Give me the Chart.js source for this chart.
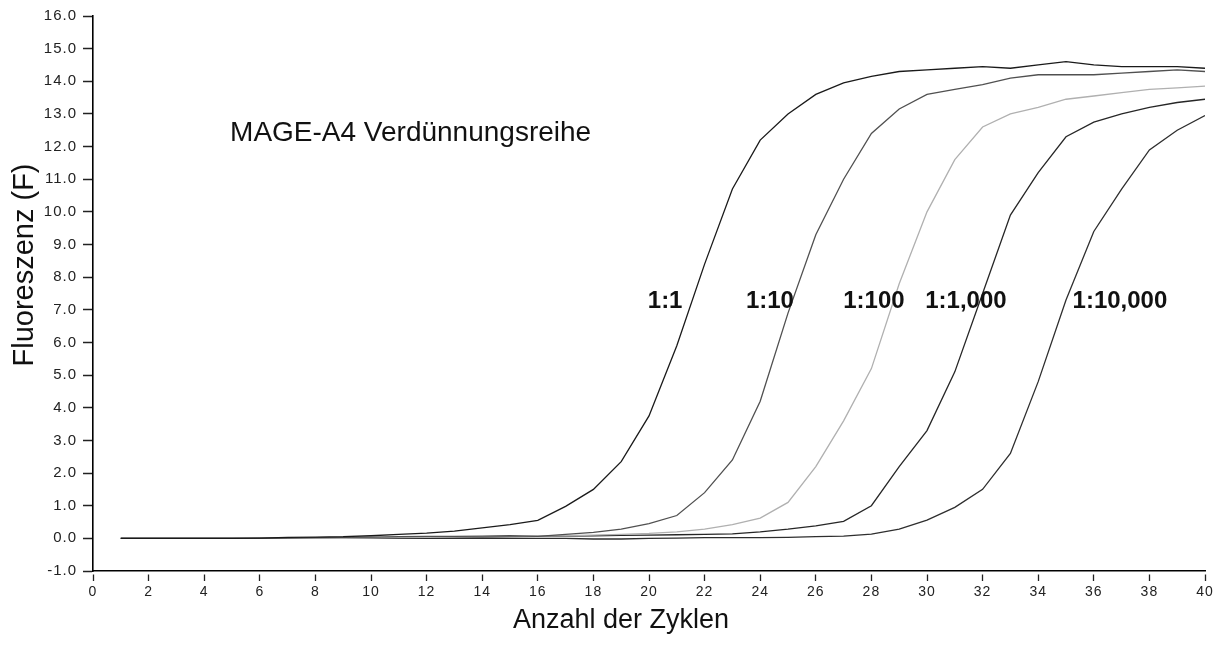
<!DOCTYPE html>
<html>
<head>
<meta charset="utf-8">
<script src="https://cdn.jsdelivr.net/npm/chart.js@4/dist/chart.umd.min.js"></script>
<style>
  html, body { margin: 0; padding: 0; background: #fff; }
  #wrap { width: 1225px; height: 645px; }
</style>
</head>
<body>
<div id="wrap"><canvas id="qpcrChart" width="1225" height="645"></canvas></div>
<script>
// Zyklen 1..40
const cycles = [1, 2, 3, 4, 5, 6, 7, 8, 9, 10, 11, 12, 13, 14, 15, 16, 17, 18, 19, 20,
  21, 22, 23, 24, 25, 26, 27, 28, 29, 30, 31, 32, 33, 34, 35, 36, 37, 38, 39, 40];

// Fluoreszenz je Verdünnung
const dil1 = [0.00, 0.00, 0.00, 0.00, 0.00, 0.01, 0.03, 0.04, 0.05, 0.08,
  0.12, 0.16, 0.22, 0.32, 0.42, 0.55, 0.98, 1.50, 2.35, 3.75,
  5.90, 8.40, 10.70, 12.20, 13.00, 13.60, 13.95, 14.15, 14.30, 14.35,
  14.40, 14.45, 14.40, 14.50, 14.60, 14.50, 14.45, 14.45, 14.45, 14.40];
const dil10 = [0.00, 0.00, 0.00, 0.00, 0.00, 0.00, 0.01, 0.02, 0.03, 0.04,
  0.05, 0.06, 0.06, 0.07, 0.08, 0.06, 0.12, 0.18, 0.28, 0.45,
  0.70, 1.40, 2.40, 4.20, 6.90, 9.30, 11.00, 12.40, 13.15, 13.60,
  13.75, 13.90, 14.10, 14.20, 14.20, 14.20, 14.25, 14.30, 14.35, 14.30];
const dil100 = [0.00, 0.00, 0.00, 0.00, 0.00, 0.00, 0.00, 0.00, 0.00, 0.01,
  0.02, 0.03, 0.04, 0.05, 0.06, 0.07, 0.08, 0.10, 0.12, 0.15,
  0.20, 0.28, 0.42, 0.62, 1.10, 2.20, 3.60, 5.20, 7.80, 10.00,
  11.60, 12.60, 13.00, 13.20, 13.45, 13.55, 13.65, 13.75, 13.80, 13.85];
const dil1000 = [0.00, 0.00, 0.00, 0.00, 0.00, 0.00, 0.00, 0.00, 0.00, 0.00,
  0.01, 0.02, 0.03, 0.04, 0.05, 0.06, 0.07, 0.08, 0.09, 0.10,
  0.11, 0.12, 0.14, 0.20, 0.28, 0.38, 0.52, 1.00, 2.20, 3.30,
  5.10, 7.50, 9.90, 11.20, 12.30, 12.75, 13.00, 13.20, 13.35, 13.45];
const dil10000 = [0.00, 0.00, 0.00, 0.00, 0.00, 0.00, 0.00, 0.00, 0.00, 0.00,
  0.00, 0.00, 0.00, 0.00, 0.00, 0.00, 0.00, -0.02, -0.02, 0.00,
  0.01, 0.02, 0.02, 0.02, 0.03, 0.05, 0.07, 0.13, 0.28, 0.56,
  0.95, 1.50, 2.60, 4.80, 7.30, 9.40, 10.70, 11.90, 12.50, 12.95];

const seriesNames = ["1:1", "1:10", "1:100", "1:1,000", "1:10,000"];
const seriesColors = ["#1a1a1a", "#505050", "#b0b0b0", "#262626", "#2e2e2e"];

// Beschriftung der Kurven (Zyklus, Fluoreszenz)
const labelCycles = [20.58, 24.35, 28.09, 31.4, 36.94];
const labelValues = [7.27, 7.27, 7.27, 7.27, 7.27];

const yTicks = [-1, 0, 1, 2, 3, 4, 5, 6, 7, 8, 9, 10, 11, 12, 13, 14, 15, 16];

const allSeries = [dil1, dil10, dil100, dil1000, dil10000];

const FONT = "'Liberation Sans', Arial, sans-serif";

// etwas Zeichenabstand für die Achsenbeschriftung
const spacingPlugin = {
  id: "spacing",
  beforeDraw(chart) { chart.ctx.letterSpacing = "1px"; },
  afterDatasetsDraw(chart) { chart.ctx.letterSpacing = "0px"; }
};

// Texte: Titel, Achsentitel, Kurvenbeschriftungen
const textPlugin = {
  id: "texts",
  afterDraw(chart) {
    const ctx = chart.ctx;
    const xs = chart.scales.x;
    const ys = chart.scales.y;
    ctx.save();
    ctx.letterSpacing = "0px";
    ctx.fillStyle = "#111";

    // Kurvenbeschriftungen
    ctx.font = "bold 24px " + FONT;
    ctx.textAlign = "center";
    ctx.textBaseline = "middle";
    seriesNames.forEach((name, i) => {
      ctx.fillText(name, xs.getPixelForValue(labelCycles[i]), ys.getPixelForValue(labelValues[i]));
    });

    // Titel im Diagramm
    ctx.font = "28px " + FONT;
    ctx.textAlign = "left";
    ctx.fillText("MAGE-A4 Verdünnungsreihe", xs.getPixelForValue(4.93), ys.getPixelForValue(12.42));

    // Achsentitel
    ctx.font = "27px " + FONT;
    ctx.textAlign = "center";
    ctx.textBaseline = "alphabetic";
    ctx.fillText("Anzahl der Zyklen", 621, 628);

    ctx.font = "29px " + FONT;
    ctx.translate(33, 265);
    ctx.rotate(-Math.PI / 2);
    ctx.fillText("Fluoreszenz (F)", 0, 0);
    ctx.restore();
  }
};

const ctx = document.getElementById("qpcrChart").getContext("2d");

new Chart(ctx, {
  type: "line",
  data: {
    datasets: allSeries.map((vals, i) => ({
      label: seriesNames[i],
      data: vals.map((v, j) => ({ x: cycles[j], y: v })),
      borderColor: seriesColors[i],
      borderWidth: 1.3,
      pointRadius: 0,
      tension: 0,
      fill: false
    }))
  },
  options: {
    responsive: false,
    animation: false,
    layout: { padding: { top: 16, right: 20, left: 0, bottom: 0 } },
    plugins: {
      legend: { display: false },
      tooltip: { enabled: false }
    },
    scales: {
      x: {
        type: "linear",
        min: 0,
        max: 40,
        border: { color: "#000", width: 1.6 },
        grid: {
          drawOnChartArea: false, tickLength: 10, tickColor: "#222", tickWidth: 1.3,
          tickBorderDash: [0, 3, 7, 50]
        },
        ticks: {
          stepSize: 2,
          padding: 3,
          color: "#222",
          font: { family: FONT, size: 14 },
          maxRotation: 0
        },
        afterFit: (scale) => { scale.height = 74; }
      },
      y: {
        type: "linear",
        min: -1,
        max: 16,
        border: { color: "#000", width: 1.6 },
        grid: {
          drawOnChartArea: false, tickLength: 14, tickColor: "#222", tickWidth: 1.3,
          tickBorderDash: [0, 4, 10, 50]
        },
        afterBuildTicks: (scale) => { scale.ticks = yTicks.map(v => ({ value: v })); },
        ticks: {
          padding: 2,
          color: "#222",
          font: { family: FONT, size: 15 },
          callback: (v) => Number(v).toFixed(1)
        },
        afterFit: (scale) => { scale.width = 93; }
      }
    }
  },
  plugins: [spacingPlugin, textPlugin]
});
</script>
</body>
</html>
